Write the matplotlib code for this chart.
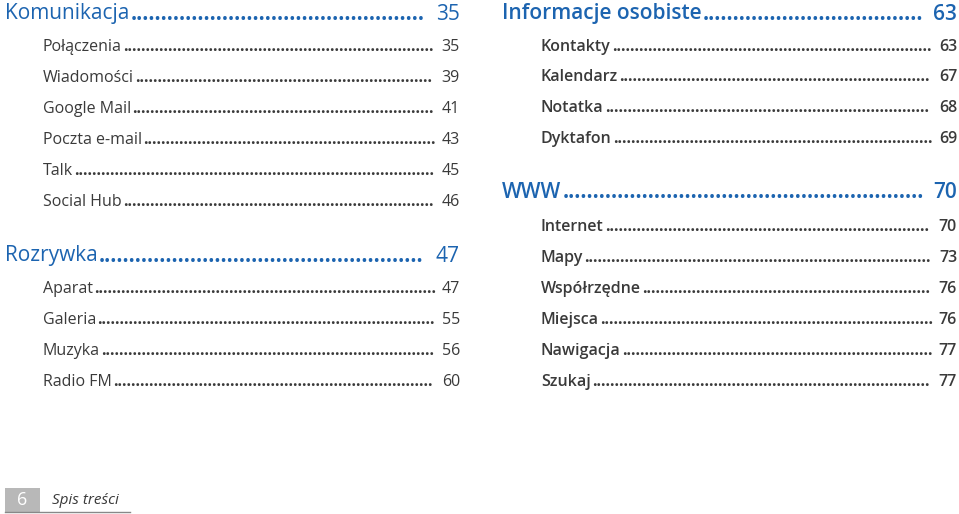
import matplotlib
matplotlib.use("Agg")
import matplotlib.pyplot as plt
import matplotlib.patches as patches

BLUE = "#1c64b0"
GRAY = "#3a3a3a"

left_heads = ["Komunikacja", "Rozrywka"]
left_head_pages = ["35", "47"]
left_head_y = [14, 256]
left_items = [["Połączenia", "Wiadomości", "Google Mail", "Poczta e-mail", "Talk", "Social Hub"],
              ["Aparat", "Galeria", "Muzyka", "Radio FM"]]
left_pages = [["35", "39", "41", "43", "45", "46"], ["47", "55", "56", "60"]]
left_item_y = [[47, 78, 109, 140, 171, 202], [289, 320, 351, 382]]

right_heads = ["Informacje osobiste", "WWW"]
right_head_pages = ["63", "70"]
right_head_y = [14, 193]
right_items = [["Kontakty", "Kalendarz", "Notatka", "Dyktafon"],
               ["Internet", "Mapy", "Współrzędne", "Miejsca", "Nawigacja", "Szukaj"]]
right_pages = [["63", "67", "68", "69"], ["70", "73", "76", "76", "77", "77"]]
right_item_y = [[47, 77, 108, 139], [227, 258, 289, 320, 351, 382]]

fig = plt.figure(figsize=(9.59, 5.14), dpi=100)
ax = fig.add_axes([0, 0, 1, 1])
ax.set_xlim(0, 959)
ax.set_ylim(514, 0)
ax.axis("off")
fig.canvas.draw()
r = fig.canvas.get_renderer()


def width(t):
    return t.get_window_extent(r).width


def entry(x0, x1, y, label, page, size, color, weight="normal"):
    kw = dict(fontsize=size, color=color, family="Open Sans", va="center", weight=weight)
    t = ax.text(x0, y, label, ha="left", **kw)
    p = ax.text(x1, y, page, ha="right", **kw)
    kd = dict(kw, weight="bold")
    d = ax.text(0, -100, "..........", **kd)
    dw = width(d) / 10
    d.remove()
    gap = (x1 - x0) - width(t) - width(p) - dw * 1.5
    n = max(int(gap / dw), 0)
    ax.text(x0 + width(t) + 1, y, "." * n, ha="left", **kd)


for h, hp, hy, items, pages, ys in zip(left_heads, left_head_pages, left_head_y,
                                        left_items, left_pages, left_item_y):
    entry(5, 460, hy, h, hp, 15, BLUE)
    for it, pg, y in zip(items, pages, ys):
        entry(43, 460, y, it, pg, 11.5, GRAY)

for h, hp, hy, items, pages, ys in zip(right_heads, right_head_pages, right_head_y,
                                        right_items, right_pages, right_item_y):
    entry(502, 957, hy, h, hp, 15, BLUE, "semibold")
    for it, pg, y in zip(items, pages, ys):
        entry(541, 957, y, it, pg, 11.5, GRAY, "semibold")

ax.add_patch(patches.Rectangle((5, 488), 35, 24, facecolor="#b8b8b8", edgecolor="none"))
ax.plot([5, 130], [512, 512], color="#888888", lw=1)
ax.text(22, 500, "6", fontsize=13, color="white", ha="center", va="center", family="Open Sans")
ax.text(52, 500, "Spis treści", fontsize=11, color=GRAY, style="italic", va="center", family="Open Sans")

fig.savefig("out.png", dpi=100)
